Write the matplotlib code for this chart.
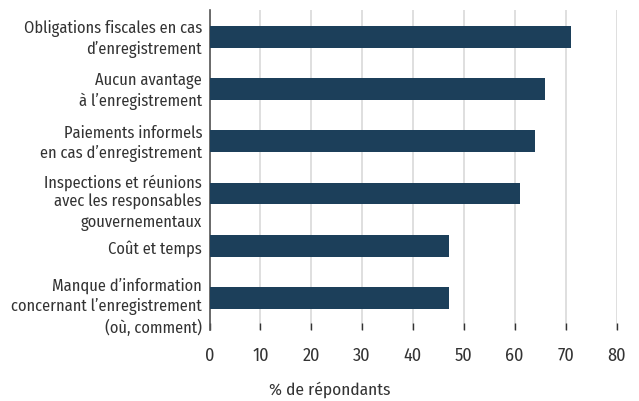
import matplotlib.pyplot as plt
from matplotlib.transforms import ScaledTranslation, blended_transform_factory

plt.rcParams['font.family'] = ['Fira Sans Condensed', 'Roboto Condensed', 'DejaVu Sans']

# Obstacles à l'enregistrement, du haut vers le bas
categories = [
    "Obligations fiscales en cas\nd\u2019enregistrement",
    "Aucun avantage\nà l\u2019enregistrement",
    "Paiements informels\nen cas d\u2019enregistrement",
    "Inspections et réunions\navec les responsables\ngouvernementaux",
    "Coût et temps",
    "Manque d\u2019information\nconcernant l\u2019enregistrement\n(où, comment)",
]
values = [71, 66, 64, 61, 47, 47]
xticks = [0, 10, 20, 30, 40, 50, 60, 70, 80]

bar_color = '#1c3f5a'
text_color = '#333333'

fig = plt.figure(figsize=(6.39, 4.01), dpi=100)
ax = fig.add_axes([209.5 / 639, 1 - 330 / 401, 407 / 639, 320 / 401])

pos = list(range(len(categories)))
ax.barh(pos, values, height=0.42, color=bar_color, zorder=3)

ax.set_xlim(0, 80)
ax.set_ylim(5.62, -0.52)
ax.set_xticks(xticks)
ax.set_xticklabels([str(t) for t in xticks])
ax.set_yticks(pos)
ax.set_yticklabels([])

# category labels, right-aligned against the axis; longer labels sit a little lower
trans = blended_transform_factory(ax.transAxes, ax.transData)
for p, label in zip(pos, categories):
    n_lines = label.count('\n') + 1
    dy = {1: 2, 2: 1.5, 3: 6.5}[n_lines]
    t = trans + ScaledTranslation(-7.5 / 100, -dy / 72, fig.dpi_scale_trans)
    ax.text(0, p, label, transform=t, ha='right', va='center', ma='right',
            fontsize=11.8, color=text_color, linespacing=1.3)

ax.xaxis.grid(True, color='#d9d9d9', linewidth=1.2, zorder=0)
for side in ('top', 'right', 'bottom'):
    ax.spines[side].set_visible(False)
ax.spines['left'].set_color('#555555')
ax.spines['left'].set_linewidth(1.2)

ax.tick_params(axis='x', direction='in', length=5, width=1, color='#333333',
               labelsize=13, labelcolor=text_color, pad=12)
ax.tick_params(axis='y', length=0)

ax.set_xlabel('% de répondants', fontsize=12.5, color=text_color)
ax.xaxis.set_label_coords((330 - 209.5) / 407, (330 - 390) / 320)
ax.xaxis.label.set_va('center')

fig.savefig('out.png', dpi=100)
